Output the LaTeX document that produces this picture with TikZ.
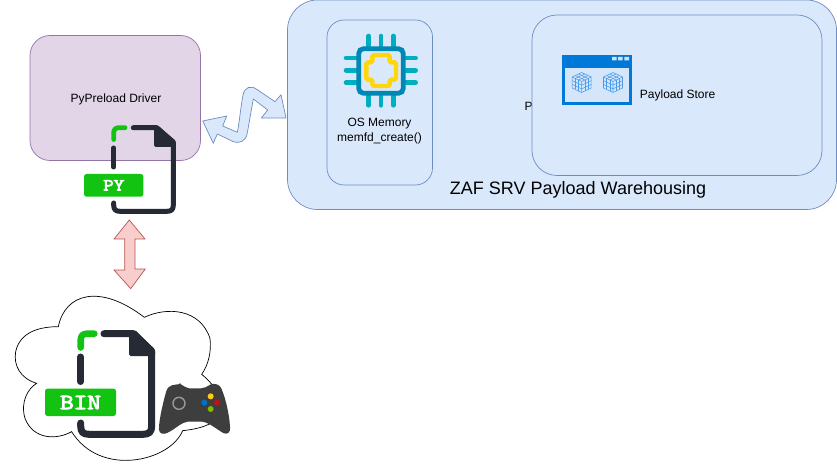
\documentclass[tikz,border=0pt]{standalone}
\usepackage{fontspec}
\setmainfont{Liberation Sans}
\newfontfamily\monob[FakeBold=4,FakeStretch=1.2]{Latin Modern Mono}
\definecolor{pfill}{HTML}{E1D5E7}\definecolor{pline}{HTML}{9673A6}
\definecolor{bfill}{HTML}{DAE8FC}\definecolor{bline}{HTML}{6C8EBF}
\definecolor{rfill}{HTML}{F8CECC}\definecolor{rline}{HTML}{B85450}
\definecolor{fgreen}{HTML}{12C312}\definecolor{fdark}{HTML}{252A34}
\definecolor{pin}{HTML}{00AEC2}\definecolor{chip}{HTML}{0088B4}\definecolor{cyel}{HTML}{FFD60A}
\definecolor{win}{HTML}{0078D7}\definecolor{wfill}{HTML}{D6E6FA}\definecolor{cube}{HTML}{4A9BE8}
\definecolor{pad}{HTML}{3E3E3E}
\definecolor{bblue}{HTML}{0072C6}\definecolor{bred}{HTML}{BA141A}\definecolor{bgreen}{HTML}{7FBA00}\definecolor{byel}{HTML}{FFCD0A}
\tikzset{
  box/.style={draw=#1,line width=0.7pt},
  lbl/.style={font=\fontsize{12}{14}\selectfont,inner sep=0pt,text=black},
  fileg/.style={line cap=round,line join=round,draw=fgreen},
  filed/.style={line cap=round,line join=round,draw=fdark},
  tag/.style={fill=fgreen,rounded corners=2.5pt,draw=none},
  pinl/.style={draw=pin,line width=4.6pt,line cap=round},
}
\newcommand{\cubeicon}[2]{%
  \begin{scope}[shift={(#1,#2)},draw=cube,line width=0.55pt,line join=round]
    \draw (-9.5,-5.5)--(0,-10)--(9.5,-5.5)--(9.5,5.5)--(0,10)--(-9.5,5.5)--cycle;
    \draw (-9.5,-5.5)--(0,-1)--(9.5,-5.5) (0,-1)--(0,10);
    \foreach \t in {0.33,0.67}{
      \draw ({-9.5*(1-\t)},{-5.5+4.5*\t})--({-9.5*(1-\t)},{5.5+4.5*\t});
      \draw ({9.5*(1-\t)},{-5.5+4.5*\t})--({9.5*(1-\t)},{5.5+4.5*\t});
      \draw (-9.5,{-5.5+11*\t})--(0,{-1+11*\t})--(9.5,{-5.5+11*\t});
      \draw ({-9.5*(1-\t)},{-5.5+4.5*\t})--({9.5*\t},{-10+4.5*\t});
      \draw ({9.5*(1-\t)},{-5.5+4.5*\t})--({-9.5*\t},{-10+4.5*\t});
    }
  \end{scope}}
\begin{document}
\begin{tikzpicture}[x=1pt,y=-1pt]
\useasboundingbox (0,0) rectangle (837,470);
\clip (0,0) rectangle (837,470);

% driver box
\path[box=pline,fill=pfill,rounded corners=20pt] (30,35.5) rectangle (200.5,160.5);
\node[lbl] (driver) at (116,99) {PyPreload Driver};

% warehouse
\path[box=bline,fill=bfill,rounded corners=30pt] (287.5,0) rectangle (836.5,209.5);
\node[lbl] (cutp) at (528.5,106) {P};
\path[box=bline,fill=bfill,rounded corners=25pt] (532,15) rectangle (822,175.5);
\path[box=bline,fill=bfill,rounded corners=17pt] (327,20) rectangle (432.5,185);
\node[inner sep=0pt,font=\fontsize{18}{20}\selectfont] (zaf) at (578,189.5) {ZAF SRV Payload Warehousing};

% memory label
\node[lbl] (osm) at (379.5,124) {OS Memory};
\node[lbl] (mfd) at (379.5,138.5) {memfd\_create()};

% chip icon
\begin{scope}[shift={(320,10)},x=0.3333pt,y=-0.3333pt]
  \foreach \p in {146,183,220}{
    \draw[pinl] (\p,78)--(\p,112);
    \draw[pinl] (\p,252)--(\p,286);
    \draw[pinl] (78,\p-2)--(112,\p-2);
    \draw[pinl] (252,\p-2)--(287,\p-2);
  }
  \draw[draw=chip,line width=4.8pt,rounded corners=5pt,fill=bfill] (116,116) rectangle (250,250);
  \draw[draw=cyel,line width=4.4pt,line join=round,rounded corners=1.5pt]
    (157,135)--(209,135)--(209,157)--(228,157)--(228,209)--(209,209)--(209,228)--(157,228)--(157,209)--(139,209)--(139,157)--(157,157)--cycle;
\end{scope}

% store icon
\fill[win] (562,55) rectangle (632,105);
\fill[wfill] (565,68) rectangle (629,102.3);
\fill[white!80!win] (612,57) rectangle (616.7,60.3) (618,57) rectangle (622.7,60.3) (624.3,57) rectangle (629,60.3);
\cubeicon{581.7}{82.5}
\cubeicon{613}{82.5}
\node[lbl,anchor=west] (store) at (639.7,95.7) {Payload Store};

% zigzag arrow
\path[draw=bline,fill=bfill,line width=0.7pt,line join=round]
  (202.7,121)--(226.7,116)--(222.7,126)--(237.3,132.3)
  .. controls (239,125) and (241,105) .. (243,95)
  .. controls (244.5,87) and (251,85) .. (257,89.5)
  --(275,101.7)--(281,94.7)--(286,118)--(261.3,118)--(267.7,110)--(253.3,99)
  --(247.3,133)
  .. controls (246,141) and (240,144) .. (233,141.5)
  --(217.3,134)--(213.3,143.3)--cycle;

% py file
\draw[fileg,line width=4.8pt] (125,127.7)--(119,127.7) .. controls (115.5,127.7) and (113.7,129.5) .. (113.7,133)--(113.7,139.5);
\draw[filed,line width=5pt] (113.7,148)--(113.7,167);
\draw[filed,line width=5pt] (113.7,203)--(113.7,205) .. controls (113.7,209.5) and (115.5,211.3) .. (120,211.3)--(167,211.3) .. controls (171.5,211.3) and (173.3,209.5) .. (173.3,205)--(173.3,142)--(156.7,127.7)--(133.3,127.7);
\fill[fdark,rounded corners=1.5pt] (154,127)--(158,125.5)--(175.7,142)--(175.7,147)--(154,147)--cycle;
\path[tag] (84,174) rectangle (143.3,196.7);
\node[inner sep=0pt,text=white,font=\monob\fontsize{17}{18}\selectfont] (py) at (113.7,185.3) {PY};

% red arrow
\path[draw=rline,fill=rfill,line width=0.7pt,line join=miter]
  (129.3,220)--(145,239)--(135,239)--(135,269)--(145.3,269)--(130.7,288.7)--(114,270)--(124.7,270)--(124.7,239)--(114,239)--cycle;

% cloud
\begin{scope}[shift={(0,285)},x=0.3333pt,y=-0.3333pt]
  \path[draw=black,fill=white,line width=0.7pt]
    (175,125) .. controls (195,25) and (300,-5) .. (433,97)
    .. controls (500,65) and (600,70) .. (630,160)
    .. controls (635,200) and (625,240) .. (605,268)
    .. controls (670,320) and (720,420) .. (548,437)
    .. controls (510,530) and (300,578) .. (215,440)
    .. controls (170,465) and (100,465) .. (75,400)
    .. controls (60,350) and (85,310) .. (110,295)
    .. controls (60,280) and (40,240) .. (47,200)
    .. controls (60,140) and (120,125) .. (175,125) -- cycle;
  % controller
  \fill[pad,rounded corners=1pt]
    (540,297) .. controls (525,300) and (505,297) .. (498,322)
    .. controls (490,350) and (478,400) .. (477,430)
    .. controls (477,446) and (490,450) .. (505,442)
    .. controls (525,432) and (545,412) .. (565,410)
    --(605,410)
    .. controls (625,412) and (650,432) .. (668,443)
    .. controls (682,450) and (692,442) .. (690,425)
    .. controls (688,390) and (678,345) .. (666,315)
    .. controls (660,298) and (645,295) .. (632,298)
    .. controls (622,305) and (612,310) .. (600,310)
    --(570,310) .. controls (558,310) and (552,302) .. (540,297) -- cycle;
  \draw[draw=black!40,line width=1.4pt] (537,355) circle[radius=18];
  \fill[byel] (632,334) circle[radius=9];
  \fill[bblue] (613,353) circle[radius=9];
  \fill[bred] (651,353) circle[radius=9];
  \fill[bgreen] (632,372) circle[radius=9];
\end{scope}

% bin file
\draw[fileg,line width=6.6pt] (94.3,333.7)--(87,333.7) .. controls (83,333.7) and (80.7,336) .. (80.7,340)--(80.7,347.5);
\draw[filed,line width=7pt] (80.7,357)--(80.7,381.5);
\draw[filed,line width=7pt] (80.7,423)--(80.7,426) .. controls (80.7,432) and (83,434.3) .. (89,434.3)--(143,434.3) .. controls (149,434.3) and (151.7,432) .. (151.7,426)--(151.7,351)--(133.3,333.7)--(104,333.7);
\fill[fdark,rounded corners=1.5pt] (129,332)--(135,330)--(155,350)--(155,356)--(129,356)--cycle;
\path[tag] (45,388.7) rectangle (116,416);
\node[inner sep=0pt,text=white,font=\monob\fontsize{22}{24}\selectfont] (bin) at (80.5,402.5) {BIN};
\end{tikzpicture}
\end{document}
